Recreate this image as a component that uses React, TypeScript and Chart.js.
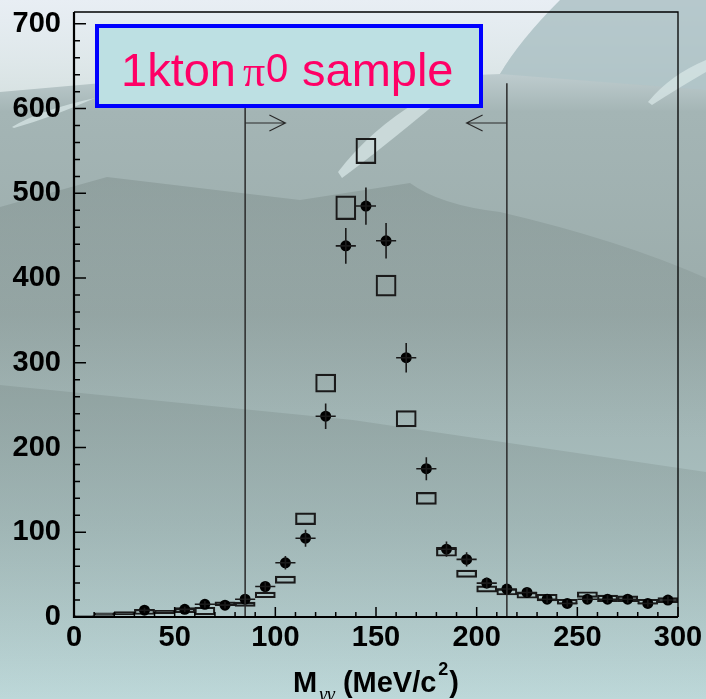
import React, { useEffect, useRef } from "react";
import { Chart, registerables } from "chart.js";

Chart.register(...registerables);

// ---- data ----
const binCenters = [5, 15, 25, 35, 45, 55, 65, 75, 85, 95, 105, 115, 125, 135, 145, 155, 165, 175, 185, 195, 205, 215, 225, 235, 245, 255, 265, 275, 285, 295];
const dataCounts: (number | null)[] = [null, null, null, 8, null, 9, 15, 14, 21, 36, 64, 93, 237, 438, 485, 444, 306, 175, 80, 68, 40, 33, 29, 21, 16, 21, 21, 21, 16, 20];
const dataErrors = [0, 0, 0, 3, 0, 3, 4, 4, 5, 6, 8, 10, 15, 21, 22, 21, 17.5, 13.5, 9, 8.5, 6.3, 5.7, 5.4, 4.6, 4, 4.6, 4.6, 4.6, 4, 4.5];
const mcCounts = [1, 3.5, 4.5, 6, 6, 8, 7, 16, 15, 26, 44, 116, 276, 483, 550, 391, 234, 140, 77, 51, 33, 29.5, 25.6, 23, 18, 26.5, 22, 21.5, 18, 20];
const mcErrors = [0.7, 1.5, 2, 3, 2, 3, 4.5, 2, 2.5, 3.3, 4.3, 6.9, 10.6, 14, 15, 12.4, 9.6, 7, 5.3, 4.3, 3.7, 3.5, 3.5, 3.9, 3, 3.3, 3.9, 3.4, 3, 3];
const binHalfWidth = 5;
const xTickLabels = [0, 50, 100, 150, 200, 250, 300];
const yTickLabels = [0, 100, 200, 300, 400, 500, 600, 700];
const cutLow = 85;
const cutHigh = 215;
const cutTop = 630;
const arrowY = 583;
const arrowLen = 20;
const xMin = 0, xMax = 300, yMin = 0, yMax = 714;

const SANS = "'Liberation Sans', Arial, sans-serif";
const SERIF = "'Liberation Serif', 'DejaVu Serif', serif";

const bgPlugin = {
  id: "bg",
  beforeDraw(chart: any) {
    const { ctx, width: W, height: H } = chart;
    ctx.save();
    const g = ctx.createLinearGradient(0, 0, 0, H);
    g.addColorStop(0, "#e6ebf5");
    g.addColorStop(0.09, "#c5d2d5");
    g.addColorStop(0.16, "#a4b5b5");
    g.addColorStop(0.45, "#9bacab");
    g.addColorStop(0.75, "#aac1c1");
    g.addColorStop(1, "#bdd8d9");
    ctx.fillStyle = g;
    ctx.fillRect(0, 0, W, H);

    // light top region
    ctx.beginPath();
    ctx.moveTo(0, 0);
    ctx.lineTo(560, 0);
    ctx.quadraticCurveTo(520, 40, 500, 74);
    ctx.lineTo(400, 78);
    ctx.lineTo(250, 70);
    ctx.lineTo(0, 92);
    ctx.closePath();
    const gl = ctx.createLinearGradient(0, 0, 0, 95);
    gl.addColorStop(0, "rgba(232,238,244,0.95)");
    gl.addColorStop(1, "rgba(222,232,232,0.85)");
    ctx.fillStyle = gl;
    ctx.fill();

    // top right gray-blue
    ctx.beginPath();
    ctx.moveTo(560, 0);
    ctx.lineTo(706, 0);
    ctx.lineTo(706, 90);
    ctx.lineTo(500, 74);
    ctx.quadraticCurveTo(520, 40, 560, 0);
    ctx.closePath();
    ctx.fillStyle = "rgba(176,196,200,0.9)";
    ctx.fill();

    // light swooshes
    ctx.fillStyle = "rgba(215,230,230,0.75)";
    ctx.beginPath();
    ctx.moveTo(12, 127);
    ctx.quadraticCurveTo(40, 110, 95, 98);
    ctx.quadraticCurveTo(50, 118, 14, 128);
    ctx.closePath();
    ctx.fill();
    ctx.beginPath();
    ctx.moveTo(338, 172);
    ctx.quadraticCurveTo(370, 130, 420, 100);
    ctx.lineTo(440, 100);
    ctx.quadraticCurveTo(380, 150, 342, 178);
    ctx.closePath();
    ctx.fill();
    ctx.beginPath();
    ctx.moveTo(648, 102);
    ctx.quadraticCurveTo(670, 75, 706, 60);
    ctx.lineTo(706, 72);
    ctx.quadraticCurveTo(675, 90, 652, 105);
    ctx.closePath();
    ctx.fill();

    // darker upper band
    ctx.beginPath();
    ctx.moveTo(0, 207);
    ctx.lineTo(107, 177);
    ctx.lineTo(300, 200);
    ctx.lineTo(410, 183);
    ctx.quadraticCurveTo(440, 205, 500, 212);
    ctx.quadraticCurveTo(620, 240, 706, 278);
    ctx.lineTo(706, 472);
    ctx.lineTo(353, 420);
    ctx.lineTo(0, 385);
    ctx.closePath();
    const g2 = ctx.createLinearGradient(0, 180, 0, 440);
    g2.addColorStop(0, "rgba(110,125,122,0.32)");
    g2.addColorStop(1, "rgba(110,125,122,0.0)");
    ctx.fillStyle = g2;
    ctx.fill();

    // darker lower band
    ctx.beginPath();
    ctx.moveTo(0, 385);
    ctx.lineTo(353, 420);
    ctx.lineTo(706, 472);
    ctx.lineTo(706, H);
    ctx.lineTo(0, H);
    ctx.closePath();
    const g3 = ctx.createLinearGradient(0, 390, 0, H);
    g3.addColorStop(0, "rgba(110,125,122,0.3)");
    g3.addColorStop(1, "rgba(110,125,122,0.0)");
    ctx.fillStyle = g3;
    ctx.fill();
    ctx.restore();
  },
};

const overlayPlugin = {
  id: "overlay",
  afterDatasetsDraw(chart: any) {
    const { ctx } = chart;
    const xs = chart.scales.x;
    const ys = chart.scales.y;
    ctx.save();
    // error bars on data points
    ctx.strokeStyle = "#1a1a1a";
    ctx.lineWidth = 1.6;
    binCenters.forEach((c, i) => {
      const v = dataCounts[i];
      if (v === null) return;
      const px = xs.getPixelForValue(c);
      const py = ys.getPixelForValue(v);
      ctx.beginPath();
      ctx.moveTo(xs.getPixelForValue(c - binHalfWidth), py);
      ctx.lineTo(xs.getPixelForValue(c + binHalfWidth), py);
      ctx.moveTo(px, ys.getPixelForValue(v - dataErrors[i]));
      ctx.lineTo(px, ys.getPixelForValue(v + dataErrors[i]));
      ctx.stroke();
    });
    // cut lines and arrows
    ctx.strokeStyle = "#2a2a2a";
    ctx.lineWidth = 1.5;
    const y0 = ys.getPixelForValue(0);
    const yt = ys.getPixelForValue(cutTop);
    const ya = ys.getPixelForValue(arrowY);
    [[cutLow, 1], [cutHigh, -1]].forEach(([c, dir]) => {
      const px = xs.getPixelForValue(c);
      const pe = xs.getPixelForValue(c + dir * arrowLen);
      ctx.beginPath();
      ctx.moveTo(px, y0);
      ctx.lineTo(px, yt);
      ctx.stroke();
      ctx.lineWidth = 1.2;
      ctx.beginPath();
      ctx.moveTo(px, ya);
      ctx.lineTo(pe, ya);
      ctx.moveTo(pe - dir * 16, ya - 8);
      ctx.lineTo(pe, ya);
      ctx.lineTo(pe - dir * 16, ya + 8);
      ctx.stroke();
      ctx.lineWidth = 1.5;
    });
    ctx.restore();
  },
  afterDraw(chart: any) {
    const { ctx } = chart;
    const xs = chart.scales.x;
    const ys = chart.scales.y;
    const { left, right, top, bottom } = chart.chartArea;
    ctx.save();
    // frame
    ctx.strokeStyle = "#000";
    ctx.lineWidth = 1.3;
    ctx.beginPath();
    ctx.moveTo(left, top);
    ctx.lineTo(right, top);
    ctx.lineTo(right, bottom);
    ctx.stroke();
    ctx.lineWidth = 2.2;
    ctx.beginPath();
    ctx.moveTo(left, top);
    ctx.lineTo(left, bottom);
    ctx.lineTo(right, bottom);
    ctx.stroke();
    // ticks (inside)
    ctx.lineWidth = 1.5;
    ctx.beginPath();
    for (let v = xMin; v <= xMax; v += 10) {
      const px = xs.getPixelForValue(v);
      const len = v % 50 === 0 ? 10 : 5;
      ctx.moveTo(px, bottom);
      ctx.lineTo(px, bottom - len);
    }
    for (let v = yMin; v <= 700; v += 20) {
      const py = ys.getPixelForValue(v);
      const len = v % 100 === 0 ? 12 : 6;
      ctx.moveTo(left, py);
      ctx.lineTo(left + len, py);
    }
    ctx.stroke();

    // label box
    ctx.fillStyle = "#bde0e3";
    ctx.fillRect(97, 26, 384, 80);
    ctx.strokeStyle = "#0000ff";
    ctx.lineWidth = 4;
    ctx.strokeRect(97, 26, 384, 80);
    ctx.fillStyle = "#ff0066";
    ctx.textBaseline = "alphabetic";
    ctx.textAlign = "left";
    ctx.font = `47px ${SANS}`;
    ctx.fillText("1kton", 121, 86);
    ctx.font = `44px ${SERIF}`;
    ctx.fillText("π", 243, 86);
    ctx.font = `40px ${SANS}`;
    ctx.fillText("0", 266, 82);
    ctx.font = `47px ${SANS}`;
    ctx.fillText("sample", 302, 86);

    // axis title
    ctx.fillStyle = "#000";
    const cx = (left + right) / 2;
    const parts = [
      { t: "M", f: `bold 29px ${SANS}`, dy: 0, gap: 2 },
      { t: "γγ", f: `italic 20px ${SERIF}`, dy: 9, gap: 8 },
      { t: "(MeV/c", f: `bold 29px ${SANS}`, dy: 0, gap: 2 },
      { t: "2", f: `bold 18px ${SANS}`, dy: -17, gap: 1 },
      { t: ")", f: `bold 29px ${SANS}`, dy: 0, gap: 0 },
    ];
    let total = 0;
    parts.forEach((p) => {
      ctx.font = p.f;
      total += ctx.measureText(p.t).width + p.gap;
    });
    let x = cx - total / 2;
    const base = 692;
    parts.forEach((p) => {
      ctx.font = p.f;
      ctx.fillText(p.t, x, base + p.dy);
      x += ctx.measureText(p.t).width + p.gap;
    });
    ctx.restore();
  },
};

export default function App() {
  const ref = useRef<HTMLCanvasElement | null>(null);
  useEffect(() => {
    document.body.style.margin = "0";
    if (!ref.current) return;
    const points = binCenters
      .map((c, i) => ({ x: c, y: dataCounts[i] }))
      .filter((p) => p.y !== null);
    const boxes = binCenters.map((c, i) => ({ x: c, y: [mcCounts[i] - mcErrors[i], mcCounts[i] + mcErrors[i]] }));
    const chart = new Chart(ref.current, {
      type: "bar",
      data: {
        datasets: [
          {
            type: "scatter",
            label: "data",
            data: points as any,
            showLine: false,
            pointRadius: 5.5,
            pointHoverRadius: 5.5,
            pointBackgroundColor: "#000",
            pointBorderColor: "#000",
            pointBorderWidth: 0,
          } as any,
          {
            type: "bar",
            label: "MC",
            data: boxes as any,
            backgroundColor: "rgba(0,0,0,0)",
            borderColor: "#1a1a1a",
            borderWidth: 1.5,
            borderSkipped: false,
            barPercentage: 1,
            categoryPercentage: 1,
          } as any,
        ],
      },
      options: {
        animation: false,
        responsive: false,
        maintainAspectRatio: false,
        events: [],
        layout: { padding: { left: 0, right: 28, top: 12, bottom: 0 } },
        plugins: { legend: { display: false }, tooltip: { enabled: false } },
        scales: {
          x: {
            type: "linear",
            min: xMin,
            max: xMax,
            offset: false,
            grid: { display: false, drawTicks: false },
            border: { display: false },
            ticks: {
              stepSize: 50,
              includeBounds: false,
              padding: 4,
              color: "#000",
              font: { family: SANS, size: 29, weight: "bold" },
              maxRotation: 0,
              callback: (v: any) => (xTickLabels.includes(Number(v)) ? String(v) : ""),
            },
            afterFit: (s: any) => {
              s.height = 82;
              s.paddingLeft = 0;
              s.paddingRight = 0;
            },
          },
          y: {
            type: "linear",
            min: yMin,
            max: yMax,
            grid: { display: false, drawTicks: false },
            border: { display: false },
            ticks: {
              stepSize: 100,
              includeBounds: false,
              padding: 13,
              color: "#000",
              font: { family: SANS, size: 29, weight: "bold" },
              callback: (v: any) => (yTickLabels.includes(Number(v)) ? String(v) : ""),
            },
            afterFit: (s: any) => {
              s.width = 74;
              s.paddingTop = 0;
              s.paddingBottom = 0;
            },
          },
        },
      } as any,
      plugins: [bgPlugin, overlayPlugin],
    });
    return () => chart.destroy();
  }, []);
  return (
    <div style={{ position: "absolute", left: 0, top: 0, width: 706, height: 699 }}>
      <canvas ref={ref} width={706} height={699} style={{ display: "block" }} />
    </div>
  );
}
